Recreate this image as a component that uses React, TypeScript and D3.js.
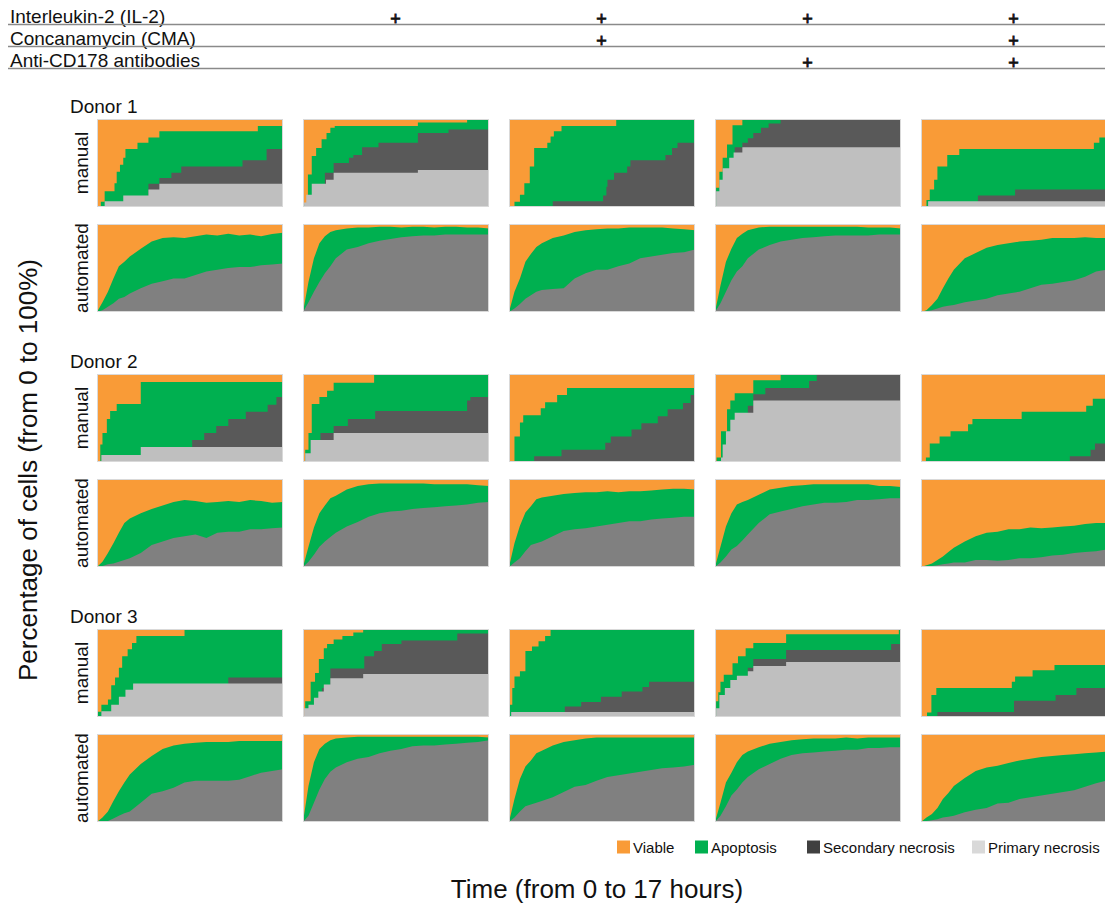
import React from "react";
import * as d3 from "d3";

type Pt = [number, number];

// treatments header
const treatmentNames = ["Interleukin-2 (IL-2)", "Concanamycin (CMA)", "Anti-CD178 antibodies"];
const il2Added = [false, true, true, true, true];
const cmaAdded = [false, false, true, false, true];
const cd178Added = [false, false, false, true, true];

const donorNames = ["Donor 1", "Donor 2", "Donor 3"];
const methodNames = ["manual", "automated"];
const legendNames = ["Viable", "Apoptosis", "Secondary necrosis", "Primary necrosis"];

// manual counts: step points [hour, cumulative %] for each column
// primary = primary necrosis top, necrosis = primary+secondary top, dead = all non-viable top
const donor1ManualPrimary: Pt[][] = [
  [[0.7, 6.4], [2.4, 13], [4.7, 20], [5.7, 26.5]],
  [[0.1, 5], [0.3, 14], [0.8, 26.5], [2.1, 31], [2.8, 39], [10.5, 42]],
  [],
  [[0.1, 18], [0.4, 31], [0.7, 44], [1.3, 56], [1.7, 62], [2.5, 68]],
  [[0.65, 6.4]],
];
const donor1ManualNecrosis: Pt[][] = [
  [[4.7, 26.5], [5.7, 33], [6.8, 39], [7.7, 46], [13.3, 53], [15.5, 66]],
  [[2.0, 39], [2.8, 50], [4.2, 56], [4.6, 59], [5.4, 68], [6.9, 73], [10.5, 84], [13.3, 88]],
  [[4.0, 6.4], [8.6, 13], [8.9, 23], [9.0, 31], [9.6, 39], [10.8, 46], [11.1, 53], [14.3, 59], [14.9, 67], [15.4, 73]],
  [[1.8, 68], [2.5, 73], [3.0, 78], [3.5, 84], [4.2, 90], [4.9, 95], [6.0, 100]],
  [[5.2, 13], [8.6, 20]],
];
const donor1ManualDead: Pt[][] = [
  [[0.35, 6], [0.7, 18], [1.6, 27], [1.8, 40], [2.1, 48], [2.4, 56], [2.6, 66], [3.7, 73], [4.7, 79], [5.7, 86], [14.7, 92]],
  [[0.1, 3], [0.45, 37], [0.8, 58], [1.2, 67], [1.7, 77], [2.15, 84], [2.5, 90], [2.9, 92], [10.5, 96], [15, 100]],
  [[0.5, 6], [1.0, 14], [1.4, 27], [1.9, 46], [2.3, 67], [3.5, 73], [3.8, 80], [4.1, 86], [4.8, 92], [9.8, 100]],
  [[0.1, 22], [0.4, 40], [0.7, 56], [1.1, 71], [1.6, 93], [2.5, 100]],
  [[0.5, 8], [0.8, 20], [1.2, 31], [1.5, 46], [2.4, 59], [3.5, 66], [15.8, 73], [16.3, 79]],
];

const donor2ManualPrimary: Pt[][] = [
  [[0.4, 8], [4.0, 17]],
  [[0.2, 10], [0.7, 25], [2.8, 33]],
  [],
  [[0.55, 5], [0.7, 20], [1.0, 35], [1.4, 48], [1.8, 56], [3.5, 70]],
  [],
];
const donor2ManualNecrosis: Pt[][] = [
  [[8.7, 25], [9.8, 33], [10.9, 41], [12.0, 49], [13.6, 57], [15.6, 65], [16.4, 74]],
  [[1.6, 33], [2.8, 41], [4.1, 49], [6.6, 58], [15.0, 70], [15.3, 74]],
  [[2.3, 6.5], [4.8, 14], [8.8, 22], [9.3, 29], [11.2, 37], [12.1, 44], [13.6, 52], [14.5, 60], [15.9, 67], [16.6, 76]],
  [[3.0, 64], [3.5, 77], [4.6, 84], [8.6, 92], [9.3, 100]],
  [[13.6, 6.5], [15.5, 14], [15.9, 21]],
];
const donor2ManualDead: Pt[][] = [
  [[0.3, 20], [0.5, 33], [0.9, 49], [1.2, 58], [1.8, 66], [4.0, 91]],
  [[0.2, 14], [0.5, 33], [0.8, 66], [1.5, 74], [2.2, 81], [2.8, 90], [6.5, 100]],
  [[0.1, 1], [0.5, 29], [1.0, 45], [1.3, 53], [2.9, 61], [3.3, 68], [4.4, 76], [5.3, 84]],
  [[0.15, 5], [0.55, 35], [1.1, 60], [1.4, 70], [1.8, 78], [3.5, 93], [6.0, 100]],
  [[0.45, 5], [0.8, 21], [1.7, 29], [2.7, 35], [4.3, 43], [4.7, 49], [9.2, 57], [15.1, 64], [15.7, 72]],
];

const donor3ManualPrimary: Pt[][] = [
  [[0.4, 6.4], [1.3, 14], [2.0, 23], [2.6, 31], [3.3, 38]],
  [[0.1, 10], [0.5, 14], [1.0, 22], [1.4, 29], [1.9, 37], [2.5, 44], [5.5, 49]],
  [[0.2, 5.7]],
  [[0.1, 10], [0.4, 25], [0.9, 33], [1.4, 42], [2.0, 47], [3.0, 52], [3.5, 58], [6.5, 62.5]],
  [],
];
const donor3ManualNecrosis: Pt[][] = [
  [[12.0, 45]],
  [[1.75, 33], [2.5, 55], [5.6, 69], [6.5, 75], [7.2, 83], [9.0, 87], [14.1, 95]],
  [[5.1, 12], [6.6, 17], [8.4, 23], [10.3, 29], [12.2, 34], [12.8, 40]],
  [[3.0, 56], [3.5, 66], [6.5, 76], [16.1, 83]],
  [[1.5, 5.7], [8.5, 18.5], [12.3, 25], [14.2, 33]],
];
const donor3ManualDead: Pt[][] = [
  [[0.05, 6], [0.4, 14], [1.0, 20], [1.3, 36], [1.65, 45], [2.0, 56], [2.3, 69], [2.8, 77], [3.2, 84], [3.6, 92], [8.0, 100]],
  [[0.2, 18], [0.7, 40], [1.1, 50], [1.45, 66], [1.9, 78], [2.2, 83], [2.8, 88], [3.6, 92], [4.6, 96], [5.5, 100]],
  [[0.05, 14], [0.3, 33], [0.5, 46], [1.0, 52], [1.5, 75], [2.1, 80], [2.7, 86], [3.3, 92], [3.8, 100]],
  [[0.1, 18], [0.3, 28], [0.5, 40], [0.8, 48], [1.6, 61], [2.1, 69], [2.8, 78], [3.5, 84], [6.5, 94], [16.8, 100]],
  [[0.55, 5], [0.95, 25], [1.4, 33], [8.3, 40], [8.6, 46], [10.2, 53], [12.2, 59]],
];

// automated: % at these hours
const autoHours = [0, 0.5, 1, 1.5, 2, 2.5, 3, 4, 5, 6, 7, 8, 9, 10, 11, 12, 13, 14, 15, 16, 17];

const donor1AutoNecrosis = [
  [0, 2, 6, 10, 15, 17, 21, 27, 32, 35, 38, 38, 42, 46, 48, 50, 51, 51, 53, 54, 55],
  [0, 11, 23, 34, 44, 52, 61, 71, 74, 78, 81, 83, 85, 86, 87, 87, 88, 88, 88, 88, 88],
  [0, 4, 9, 15, 19, 23, 25, 26, 27, 38, 44, 48, 48, 52, 55, 61, 63, 65, 67, 68, 71],
  [0, 10, 23, 36, 46, 52, 61, 71, 76, 80, 82, 84, 85, 86, 87, 87, 87, 87, 88, 88, 88],
  [0, 1, 2, 4, 6, 7, 8, 11, 13, 15, 19, 21, 23, 27, 31, 32, 34, 36, 40, 46, 48],
];
const donor1AutoDead = [
  [0, 11, 23, 38, 52, 57, 63, 72, 80, 84, 85, 84, 86, 88, 87, 89, 87, 88, 86, 88.5, 90],
  [0, 34, 61, 78, 86, 91, 93, 95, 96, 96, 97, 97, 96, 97, 97, 96, 97, 97, 96, 96, 95],
  [0, 23, 38, 57, 66, 74, 78, 84, 87, 91, 93, 94, 95, 95, 96, 96, 96, 96, 95, 94, 93],
  [0, 30, 57, 72, 84, 89, 93, 96, 97, 97, 97, 97, 97, 97, 97, 97, 97, 96, 96, 96, 95],
  [0, 2, 8, 15, 27, 38, 48, 61, 67, 73, 76, 78, 80, 81, 82, 84, 84, 84, 85, 84, 84],
];
const donor2AutoNecrosis = [
  [0, 1, 3, 4, 6, 8, 10, 16, 25, 29, 33, 35, 37, 33, 39, 40, 40, 43, 43, 44, 45],
  [0, 6, 14, 23, 29, 34, 39, 46, 51, 57, 61, 63, 64, 66, 67, 68, 69, 70, 71, 73, 74],
  [0, 5, 10, 18, 25, 27, 29, 35, 41, 43, 44, 46, 48, 50, 52, 52, 54, 55, 56, 57, 57],
  [0, 5, 12, 20, 24, 30, 37, 50, 60, 63, 66, 69, 71, 73, 73, 74, 76, 76, 77, 78, 78],
  [0, 0, 1, 2, 3, 4, 5, 5, 8, 8, 7, 8, 10, 10, 11, 13, 14, 16, 17, 18, 20],
];
const donor2AutoDead = [
  [0, 6, 16, 27, 39, 50, 55, 61, 66, 70, 74, 76, 75, 73, 74, 75, 74, 76, 75, 73, 74],
  [0, 23, 45, 61, 70, 78, 81, 88, 92, 94, 95, 95, 95, 95, 95, 94, 94, 94, 94, 93, 92],
  [0, 27, 47, 62, 69, 77, 79, 81, 83, 84, 85, 85, 86, 85, 86, 86, 87, 88, 89, 89, 88],
  [0, 23, 46, 61, 71, 74, 76, 82, 88, 90, 92, 93, 94, 94, 94, 94, 94, 94, 92, 92, 91],
  [0, 2, 4, 8, 12, 17, 22, 29, 35, 39, 40, 43, 43, 45, 44, 45, 46, 47, 49, 50, 50],
];
const donor3AutoNecrosis = [
  [0, 0, 1, 4, 7, 10, 12, 22, 32, 35, 39, 45, 47, 47, 47, 47, 48, 52, 56, 58, 60],
  [0, 7, 22, 37, 49, 57, 62, 68, 72, 74, 78, 81, 83, 86, 87, 87, 88, 89, 90, 91, 93],
  [0, 5, 12, 18, 20, 22, 24, 28, 34, 40, 42, 47, 51, 53, 55, 57, 59, 61, 62, 63, 65],
  [0, 7, 18, 30, 37, 45, 51, 60, 66, 72, 76, 78, 79, 80, 81, 82, 82, 84, 84, 85, 85],
  [0, 1, 2, 3, 5, 6, 7, 11, 14, 16, 21, 22, 26, 28, 30, 32, 34, 36, 40, 44, 47],
];
const donor3AutoDead = [
  [0, 5, 12, 24, 35, 45, 54, 66, 75, 83, 87, 89, 90, 91, 91, 91, 92, 92, 92, 92, 92],
  [0, 41, 68, 83, 89, 93, 95, 96, 97, 97, 97, 97, 97, 97, 97, 97, 97, 97, 97, 97, 96],
  [0, 26, 49, 63, 70, 78, 81, 87, 91, 93, 95, 96, 96, 96, 96, 96, 96, 96, 96, 96, 96],
  [0, 22, 45, 56, 68, 76, 80, 85, 89, 91, 93, 94, 95, 95, 95, 96, 95, 96, 96, 96, 96],
  [0, 5, 9, 16, 26, 33, 41, 50, 58, 62, 64, 67, 70, 72, 74, 75, 76, 77, 78, 79, 80],
];

const manualPrimary = [donor1ManualPrimary, donor2ManualPrimary, donor3ManualPrimary];
const manualNecrosis = [donor1ManualNecrosis, donor2ManualNecrosis, donor3ManualNecrosis];
const manualDead = [donor1ManualDead, donor2ManualDead, donor3ManualDead];
const autoNecrosis = [donor1AutoNecrosis, donor2AutoNecrosis, donor3AutoNecrosis];
const autoDead = [donor1AutoDead, donor2AutoDead, donor3AutoDead];

const C_VIABLE = "#F99B37";
const C_APOP = "#00B050";
const C_SEC = "#595959";
const C_PRIM = "#BFBFBF";
const C_AUTO = "#808080";
const FONT = "'Liberation Sans', Arial, sans-serif";

const PW = 186, PH = 88;
const colX = (c: number) => 97 + c * 206;
const rowY = (d: number, m: number) => 119 + d * 255 + m * 105;

function stepPoints(pts: Pt[]): Pt[] {
  const last = pts.length ? pts[pts.length - 1][1] : 0;
  return [[0, 0], ...pts, [17, last]];
}

function Panel({ x, y, layers }: { x: number; y: number; layers: { pts: Pt[]; color: string; step: boolean }[] }) {
  const xs = d3.scaleLinear().domain([0, 17]).range([x, x + PW]);
  const ys = d3.scaleLinear().domain([0, 100]).range([y + PH, y]);
  return (
    <g>
      <rect x={x} y={y} width={PW} height={PH} fill={C_VIABLE} />
      {layers.map((l, i) => {
        const area = d3.area<Pt>()
          .curve(l.step ? d3.curveStepAfter : d3.curveLinear)
          .x(d => xs(d[0]))
          .y0(ys(0))
          .y1(d => ys(d[1]));
        return <path key={i} d={area(l.pts) || ""} fill={l.color} />;
      })}
      <rect x={x + 0.5} y={y + 0.5} width={PW - 1} height={PH - 1} fill="none" stroke="#D9D9D9" strokeWidth={1} />
    </g>
  );
}

export default function App() {
  const addedRows = [il2Added, cmaAdded, cd178Added];
  const legendX = [617, 695, 807, 972];
  const legendColors = [C_VIABLE, C_APOP, "#404040", "#D9D9D9"];
  return (
    <div style={{ position: "absolute", left: 0, top: 0 }}>
      <svg width={1105} height={909} style={{ display: "block", fontFamily: FONT }}>
        <rect width={1105} height={909} fill="#fff" />
        {treatmentNames.map((name, r) => (
          <g key={name}>
            <text x={10} y={22.5 + r * 22} fontSize={19} fill="#111">{name}</text>
            <line x1={8} x2={1105} y1={24.5 + r * 22} y2={24.5 + r * 22} stroke="#8A8A8A" strokeWidth={1.6} />
            {addedRows[r].map((on, c) => on ? (
              <text key={c} x={colX(c) + PW / 2 - 0.5} y={25 + r * 22} fontSize={18} textAnchor="middle"
                fill="#111" stroke="#111" strokeWidth={0.8}>+</text>
            ) : null)}
          </g>
        ))}
        {donorNames.map((dn, d) => (
          <g key={dn}>
            <text x={70} y={rowY(d, 0) - 6} fontSize={19} fill="#111">{dn}</text>
            {methodNames.map((mn, m) => (
              <text key={mn} transform={`translate(88,${rowY(d, m) + PH / 2}) rotate(-90)`} fontSize={19} textAnchor="middle" fill="#111">{mn}</text>
            ))}
            {[0, 1, 2, 3, 4].map(c => (
              <g key={c}>
                <Panel x={colX(c)} y={rowY(d, 0)} layers={[
                  { pts: stepPoints(manualDead[d][c]), color: C_APOP, step: true },
                  { pts: stepPoints(manualNecrosis[d][c]), color: C_SEC, step: true },
                  { pts: stepPoints(manualPrimary[d][c]), color: C_PRIM, step: true },
                ]} />
                <Panel x={colX(c)} y={rowY(d, 1)} layers={[
                  { pts: autoHours.map((h, i) => [h, autoDead[d][c][i]] as Pt), color: C_APOP, step: false },
                  { pts: autoHours.map((h, i) => [h, autoNecrosis[d][c][i]] as Pt), color: C_AUTO, step: false },
                ]} />
              </g>
            ))}
          </g>
        ))}
        {legendNames.map((ln, i) => (
          <g key={ln}>
            <rect x={legendX[i]} y={840.5} width={13} height={13} fill={legendColors[i]} />
            <text x={legendX[i] + 16} y={853} fontSize={15} fill="#111">{ln}</text>
          </g>
        ))}
        <text transform="translate(37,470) rotate(-90)" fontSize={26} textAnchor="middle" fill="#111">Percentage of cells (from 0 to 100%)</text>
        <text x={597} y={898} fontSize={26} textAnchor="middle" fill="#111">Time (from 0 to 17 hours)</text>
      </svg>
    </div>
  );
}
